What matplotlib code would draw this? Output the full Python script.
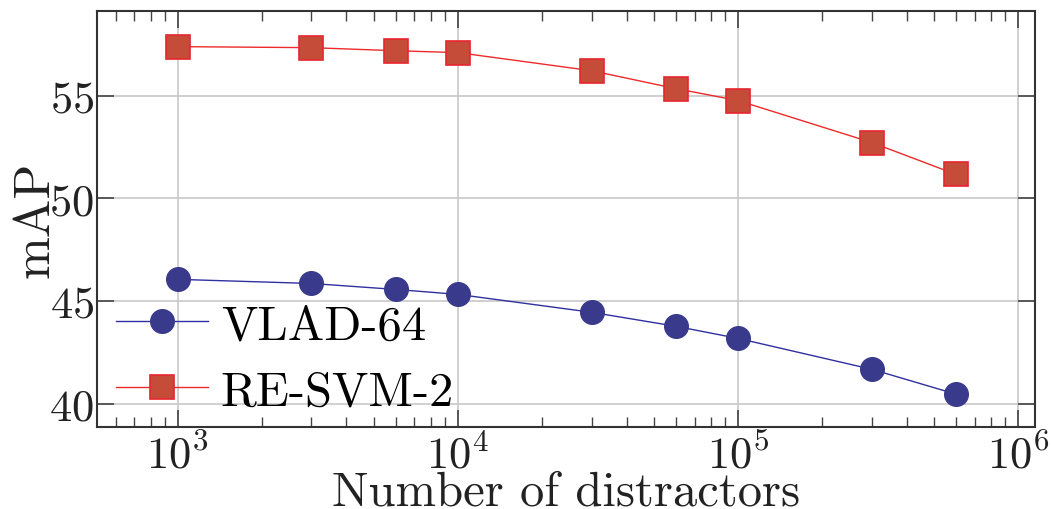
import numpy as np
import matplotlib
matplotlib.use("Agg")
import matplotlib.pyplot as plt
from matplotlib.ticker import LogLocator, NullFormatter

plt.rcParams['font.family'] = ['cmr10']
plt.rcParams['mathtext.fontset'] = 'cm'
plt.rcParams['axes.formatter.use_mathtext'] = True

# datos
distractores = [1e3, 3e3, 6e3, 1e4, 3e4, 6e4, 1e5, 3e5, 6e5]
vlad_64 = [46.07, 45.87, 45.58, 45.34, 44.47, 43.79, 43.20, 41.70, 40.49]
re_svm_2 = [57.38, 57.33, 57.18, 57.09, 56.21, 55.34, 54.76, 52.72, 51.17]

fig = plt.figure(figsize=(10.51, 5.10), dpi=100)
ax = fig.add_axes([0.092, 0.161, 0.893, 0.815])

ax.plot(distractores, vlad_64, "-o", color="#3030a0", lw=1.0,
        markersize=17, markerfacecolor="#3a3a8c", markeredgecolor="#3a3a8c",
        label="VLAD-64", zorder=3)
ax.plot(distractores, re_svm_2, "-s", color="#ee2a2a", lw=1.0,
        markersize=17, markerfacecolor="#c44c38", markeredgecolor="#e8252f",
        markeredgewidth=1.2, label="RE-SVM-2", zorder=3)

ax.set_xscale("log")
ax.set_xlim(514, 1.15e6)
ax.set_ylim(38.9, 59.1)
ax.set_yticks([40, 45, 50, 55])
ax.xaxis.set_minor_locator(LogLocator(base=10, subs=np.arange(2, 10)))
ax.xaxis.set_minor_formatter(NullFormatter())

ax.grid(True, which="major", color="#c8c8c8", lw=1.2)
ax.tick_params(which="both", direction="in", top=True, right=True,
               labelsize=32, colors="#444444", labelcolor="#222222")
ax.tick_params(which="major", length=12, width=1.2)
ax.tick_params(axis="y", pad=2)
ax.tick_params(axis="x", pad=5)
ax.tick_params(which="minor", length=7, width=1.0)
for s in ax.spines.values():
    s.set_color("#333333")
    s.set_linewidth(1.5)

ax.set_xlabel("Number of distractors", fontsize=35, labelpad=-5, color="#222222")
ax.set_ylabel("mAP", fontsize=37, labelpad=-7, color="#222222")

ax.legend(loc="lower left", bbox_to_anchor=(0.0207, 0.030), frameon=False,
          fontsize=35, handlelength=1.9, borderaxespad=0, borderpad=0,
          labelspacing=0.45, handletextpad=0.25)

plt.savefig("out.png", dpi=100)
